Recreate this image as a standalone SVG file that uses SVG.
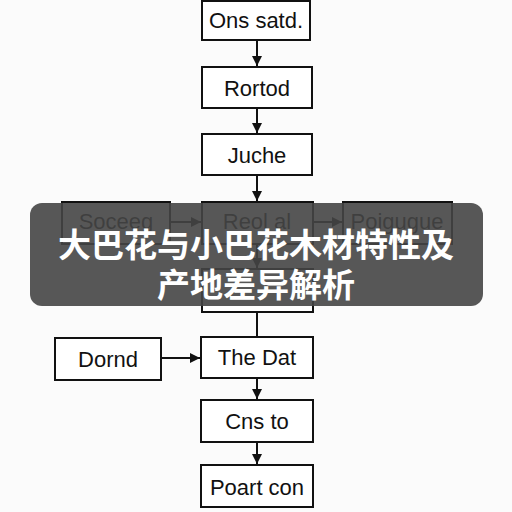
<svg xmlns="http://www.w3.org/2000/svg" width="512" height="512" viewBox="0 0 512 512">
<defs>
<marker id="ah" viewBox="0 0 10 10" refX="10" refY="5" markerWidth="10" markerHeight="10" markerUnits="userSpaceOnUse" orient="auto">
<path d="M0,0 L10,5 L0,10 Z" fill="#111"/>
</marker>
<style>
.box{fill:#fff;stroke:#111;stroke-width:2}
.lbl{font-family:"Liberation Sans",Arial,sans-serif;font-size:22px;fill:#111;text-anchor:middle;dominant-baseline:central}
.edge{stroke:#111;stroke-width:2;fill:none}
.title{font-family:"Noto Sans CJK SC","Noto Sans",sans-serif;font-size:33px;font-weight:bold;fill:#fff;text-anchor:middle}
</style>
</defs>
<rect width="512" height="512" fill="#fbfbfb"/>
<g id="connectors">
<line class="edge" x1="257" y1="40" x2="257" y2="66" marker-end="url(#ah)"/>
<line class="edge" x1="257" y1="108" x2="257" y2="133" marker-end="url(#ah)"/>
<line class="edge" x1="257" y1="175" x2="257" y2="201" marker-end="url(#ah)"/>
<line class="edge" x1="170" y1="222" x2="201" y2="222" marker-end="url(#ah)"/>
<line class="edge" x1="313" y1="222" x2="342" y2="222" marker-end="url(#ah)"/>
<line class="edge" x1="257" y1="244" x2="257" y2="268" marker-end="url(#ah)"/>
<line class="edge" x1="257" y1="312" x2="257" y2="337"/>
<line class="edge" x1="161" y1="358" x2="200" y2="358" marker-end="url(#ah)"/>
<line class="edge" x1="257" y1="378" x2="257" y2="399" marker-end="url(#ah)"/>
<line class="edge" x1="257" y1="442" x2="257" y2="464" marker-end="url(#ah)"/>
</g>
<g id="n1"><rect class="box" x="202" y="1" width="108" height="39"/><text class="lbl" x="256" y="20">Ons satd.</text></g>
<g id="n2"><rect class="box" x="202" y="67" width="110" height="41"/><text class="lbl" x="257" y="88">Rortod</text></g>
<g id="n3"><rect class="box" x="202" y="134" width="110" height="41"/><text class="lbl" x="257" y="155">Juche</text></g>
<g id="n4"><rect class="box" x="62" y="202" width="108" height="42"/><text class="lbl" x="116" y="221">Soceeg</text></g>
<g id="n5"><rect class="box" x="202" y="202" width="111" height="42"/><text class="lbl" x="257" y="221">Reol al</text></g>
<g id="n6"><rect class="box" x="343" y="202" width="109" height="42"/><text class="lbl" x="397" y="221">Poigugue</text></g>
<g id="n7"><rect class="box" x="202" y="269" width="111" height="43"/></g>
<g id="n8"><rect class="box" x="55" y="338" width="106" height="42"/><text class="lbl" x="108" y="359">Dornd</text></g>
<g id="n9"><rect class="box" x="201" y="337" width="112" height="41"/><text class="lbl" x="257" y="357">The Dat</text></g>
<g id="n10"><rect class="box" x="201" y="400" width="112" height="42"/><text class="lbl" x="257" y="421">Cns to</text></g>
<g id="n11"><rect class="box" x="201" y="465" width="112" height="42"/><text class="lbl" x="257" y="487">Poart con</text></g>
<g id="overlay">
<rect x="30" y="203" width="453" height="103" rx="12" fill="#454545" fill-opacity="0.9"/>
<text class="title" x="256" y="257">大巴花与小巴花木材特性及</text>
<text class="title" x="256" y="297">产地差异解析</text>
</g>
</svg>
